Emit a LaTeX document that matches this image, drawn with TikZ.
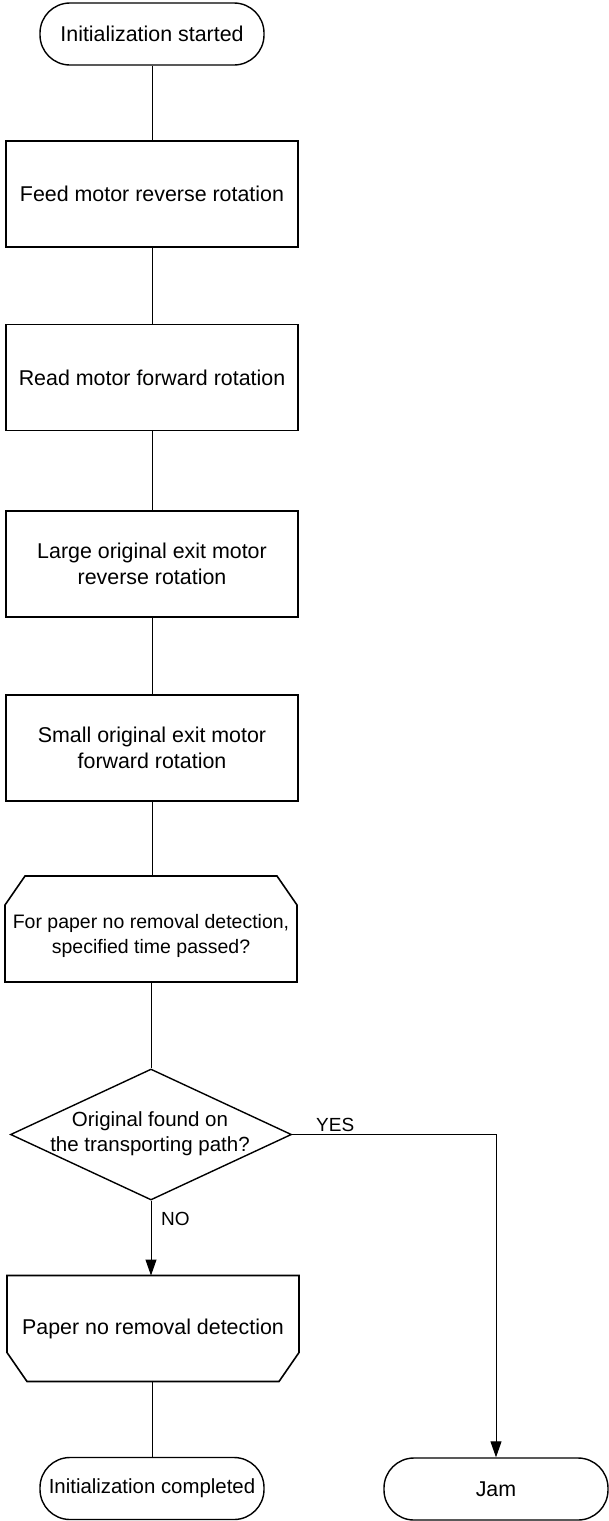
\documentclass[tikz,border=0pt]{standalone}
\usepackage{fontspec}
\setmainfont{Liberation Sans}
\usetikzlibrary{arrows.meta,shapes.geometric}

\tikzset{
  flowfont/.style={font=\fontsize{21.4}{26}\selectfont},
  smallfont/.style={font=\fontsize{19.5}{25}\selectfont},
  outline/.style={line width=1.6pt,line join=miter},
  terminal/.style={draw,line width=1.4pt,rounded corners=30pt,minimum width=224pt,
    minimum height=62pt,inner sep=0pt,flowfont},
  process/.style={draw,outline,minimum width=292pt,minimum height=106pt,
    inner sep=0pt,align=center,flowfont},
  loopbox/.style={process,draw=none,outer sep=0pt},
  decision/.style={draw,diamond,line width=1.4pt,minimum width=281pt,
    minimum height=131pt,inner sep=0pt},
  link/.style={line width=1pt},
  flowarrow/.style={link,-{Triangle[length=16pt,width=11pt]}},
  branchlabel/.style={font=\fontsize{19}{22}\selectfont,inner sep=0pt,anchor=base west}
}

\begin{document}
\begin{tikzpicture}[x=1pt,y=-1pt]
  \useasboundingbox (0,0) rectangle (609,1521);
  % Main column
  \node[terminal] (start) at (152,34) {Initialization started};
  \node[process] (feed) at (152,194) {Feed motor reverse rotation};
  \node[process] (read) at (152,377.5) {Read motor forward rotation};
  \node[process] (large) at (152,564) {Large original exit motor\\reverse rotation};
  \node[process] (small) at (152,748) {Small original exit motor\\forward rotation};
  % Loop start, top corners cut
  \node[loopbox] (loopbegin) at (151,929) {};
  \draw[outline] ([xshift=20pt]loopbegin.north west) -- ([xshift=-20pt]loopbegin.north east)
    -- ([yshift=-29pt]loopbegin.north east) -- (loopbegin.south east)
    -- (loopbegin.south west) -- ([yshift=-29pt]loopbegin.north west) -- cycle;
  \node[smallfont,align=center] (looptext) at (151,936) {For paper no removal detection,\\specified time passed?};
  \node[decision] (check) at (151,1134.5) {};
  \node[font=\fontsize{20.5}{25}\selectfont,align=center] (checktext) at (150,1134) {Original found on\\the transporting path?};
  % Loop end, bottom corners cut
  \node[loopbox] (loopend) at (153,1328.5) {Paper no removal detection};
  \draw[outline] (loopend.north west) -- (loopend.north east)
    -- ([yshift=29pt]loopend.south east) -- ([xshift=-20pt]loopend.south east)
    -- ([xshift=20pt]loopend.south west) -- ([yshift=29pt]loopend.south west) -- cycle;
  \node[terminal,font=\fontsize{20.4}{25}\selectfont] (done) at (152,1488.5) {Initialization completed};
  % Jam branch
  \node[terminal] (jam) at (496,1489) {Jam};
  % Connectors
  \draw[link] (start) -- (feed);
  \draw[link] (feed) -- (read);
  \draw[link] (read) -- (large);
  \draw[link] (large) -- (small);
  \draw[link] (small.south) -- (small.south |- loopbegin.north);
  \draw[link] (loopbegin.south) -- (loopbegin.south |- check.north);
  \draw[flowarrow] (check.south) -- (check.south |- loopend.north);
  \draw[link] (loopend.south -| done.north) -- (done.north);
  \draw[flowarrow] (check.east) -| (jam.north);
  \node[branchlabel] (yes) at (316,1131) {YES};
  \node[branchlabel] (no) at (161,1225) {NO};
\end{tikzpicture}
\end{document}
